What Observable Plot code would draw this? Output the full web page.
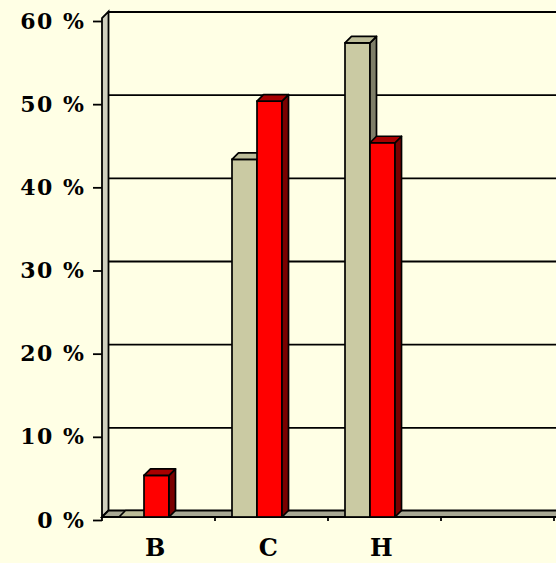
<!DOCTYPE html>
<html>
<head>
<meta charset="utf-8">
<script src="https://cdn.jsdelivr.net/npm/d3@7"></script>
<script src="https://cdn.jsdelivr.net/npm/@observablehq/plot@0.6"></script>
<style>
  html, body { margin: 0; padding: 0; background: #FFFFE5; overflow: hidden; }
</style>
</head>
<body>
<div id="chart"></div>
<script>
// ---- data ----
const categories = ["B", "C", "H", ""];
const seriesNames = ["Series 1", "Series 2"];
const series1Values = [0, 43, 57, null];
const series2Values = [5, 50, 45, null];
const yTicks = [0, 10, 20, 30, 40, 50, 60];

// ---- styling ----
const DEPTH = 6.5;
const BG = "#FFFFE5";
const styles = [
  {front: "#CACAA3", top: "#BDBD98", side: "#7E7E68", insetLeft: 17, insetRight: 71},
  {front: "#FF0000", top: "#A80000", side: "#7A0000", insetLeft: 42, insetRight: 46}
];

const rows = [series1Values, series2Values].map((vals, s) =>
  categories.map((c, i) => ({cat: c, series: seriesNames[s], value: vals[i]}))
    .filter(d => d.value != null)
);

function bandwidthOf(x) {
  return typeof x.bandwidth === "function" ? x.bandwidth() : (x(categories[1]) - x(categories[0]));
}

// 3D side wall and floor of the chart
function wallAndFloor(index, scales, values, dims) {
  const y = scales.y;
  const yb = y(0), yt = y(d3.max(yTicks));
  const xl = dims.marginLeft, W = dims.width;
  const g = d3.create("svg:g");
  g.append("path")
    .attr("d", `M${xl},${yb}L${xl},${yt}L${xl + DEPTH},${yt - DEPTH}L${xl + DEPTH},${yb - DEPTH}Z`)
    .attr("fill", "#CFCFBE").attr("stroke", "black").attr("stroke-width", 1.8);
  g.append("path")
    .attr("d", `M${xl},${yb}L${xl + DEPTH},${yb - DEPTH}L${W + 5},${yb - DEPTH}L${W + 5},${yb}Z`)
    .attr("fill", "#A8A894").attr("stroke", "black").attr("stroke-width", 1.8);
  return g.node();
}

// top and side faces of the bars
function barFaces(data, st) {
  return (index, scales) => {
    const x = scales.x, y = scales.y;
    const bw = bandwidthOf(x);
    const g = d3.create("svg:g").attr("stroke", "black").attr("stroke-width", 1.7).attr("stroke-linejoin", "round");
    for (const d of data) {
      const x0 = x(d.cat) + st.insetLeft;
      const x1 = x(d.cat) + bw - st.insetRight;
      const yt = y(d.value), yb = y(0);
      g.append("path")
        .attr("d", `M${x1},${yt}L${x1 + DEPTH},${yt - DEPTH}L${x1 + DEPTH},${yb - DEPTH}L${x1},${yb}Z`)
        .attr("fill", st.side);
      g.append("path")
        .attr("d", `M${x0},${yt}L${x0 + DEPTH},${yt - DEPTH}L${x1 + DEPTH},${yt - DEPTH}L${x1},${yt}Z`)
        .attr("fill", st.top);
    }
    return g.node();
  };
}

// x ticks at band boundaries
function xBoundaryTicks(index, scales) {
  const x = scales.x, y = scales.y;
  const bw = bandwidthOf(x);
  const g = d3.create("svg:g").attr("stroke", "black").attr("stroke-width", 1.8);
  const pos = categories.map(c => x(c)).concat([x(categories[categories.length - 1]) + bw]);
  for (const p of pos) {
    g.append("line").attr("x1", p).attr("x2", p).attr("y1", y(0)).attr("y2", y(0) + 4);
  }
  return g.node();
}

const marks = [
  Plot.ruleY(yTicks.filter(v => v > 0), {dx: DEPTH, dy: -DEPTH, stroke: "black", strokeWidth: 1.8}),
  wallAndFloor
];
rows.forEach((data, s) => {
  const st = styles[s];
  marks.push(Plot.barY(data, {
    x: "cat", y: "value", fill: st.front, stroke: "black", strokeWidth: 1.7,
    insetLeft: st.insetLeft, insetRight: st.insetRight
  }));
  marks.push(barFaces(data, st));
});
marks.push(
  Plot.axisY(yTicks, {
    tickSize: 9, tickPadding: 8, strokeWidth: 1.8,
    tickFormat: d => d + " %", fontSize: 22, dy: 3, fill: "black"
  }),
  Plot.axisX({tickSize: 0, tickPadding: 21, fontSize: 24, dx: -3, fill: "black"}),
  xBoundaryTicks
);

const chart = Plot.plot({
  width: 556,
  height: 563,
  marginLeft: 102,
  marginRight: 2,
  marginTop: 18,
  marginBottom: 46,
  style: {
    background: BG,
    fontFamily: "'DejaVu Serif', 'Liberation Serif', serif",
    fontWeight: "bold",
    letterSpacing: "1.5px",
    overflow: "hidden",
    color: "black"
  },
  x: {type: "band", domain: categories, padding: 0, label: null},
  y: {domain: [0, 60], label: null},
  marks
});
document.getElementById("chart").appendChild(chart);
</script>
</body>
</html>
